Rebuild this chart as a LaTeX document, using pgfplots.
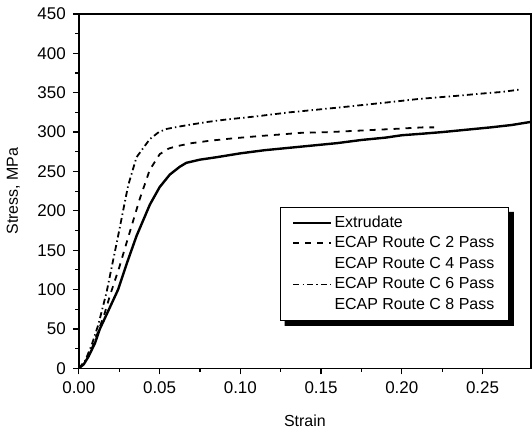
\documentclass[border=0pt]{standalone}
\usepackage{fontspec}
\setmainfont{Liberation Sans}
\usepackage{pgfplots}
\pgfplotsset{compat=1.18}
\begin{document}
\begin{tikzpicture}
\path[use as bounding box] (-39.5pt,-30.5pt) rectangle (227pt,184.5pt);
\begin{axis}[
  scale only axis, width=226.5pt, height=177.5pt,
  xmin=0, xmax=0.28, ymin=0, ymax=450,
  xtick={0,0.05,...,0.25}, ytick={0,50,...,450},
  minor x tick num=1, minor y tick num=1,
  tick pos=left, tick align=outside,
  major tick length=3pt, minor tick length=1.8pt,
  axis line style={line width=0.7pt}, every tick/.style={line width=0.6pt, black},
  /pgf/number format/assume math mode=true,
  xticklabel style={/pgf/number format/fixed, /pgf/number format/fixed zerofill, /pgf/number format/precision=2, font=\fontsize{8.5}{10}\selectfont},
  yticklabel style={font=\fontsize{8.5}{10}\selectfont},
  scaled x ticks=false,
  xlabel={Strain}, ylabel={Stress, MPa},
  label style={font=\fontsize{8}{10}\selectfont},
  xlabel style={yshift=-4pt},
  ylabel style={yshift=2pt},
  legend cell align=left,
  legend style={name=leg, at={(0.951,0.134)}, anchor=south east, draw=black, line width=0.6pt, fill=white,
    font=\fontsize{8}{9}\selectfont, inner xsep=6pt, inner ysep=2.5pt,
    nodes={inner ysep=0.9pt, inner xsep=1pt, text height=6.5pt, text depth=2pt}},
  legend image code/.code={\draw[#1] (0pt,0pt) -- (19pt,0pt);},
]
\addplot[black, line width=1.2pt] coordinates {
(0,0) (0.003,5) (0.006,15) (0.01,32) (0.013,50) (0.018,72) (0.0243,100) (0.03,135) (0.0357,168) (0.044,208) (0.05,230) (0.0563,246) (0.0625,256) (0.0666,261) (0.075,265) (0.085,268) (0.1,273) (0.115,277) (0.13,280) (0.145,283) (0.16,286) (0.175,290) (0.19,293) (0.2,296) (0.213,298) (0.225,300) (0.24,303) (0.255,306) (0.268,309) (0.28,313)};
\addlegendentry{Extrudate}
\addplot[black, line width=0.9pt, dash pattern=on 3pt off 3pt] coordinates {
(0,0) (0.004,8) (0.008,25) (0.012,47) (0.016,70) (0.0192,92) (0.025,128) (0.0305,166) (0.0377,215) (0.0439,252) (0.0501,272) (0.0555,279) (0.0604,282) (0.07,286) (0.081,289) (0.095,292) (0.112,295) (0.125,297) (0.137,299) (0.155,300) (0.175,302) (0.195,304) (0.213,306) (0.22,306)};
\addlegendentry{ECAP Route C 2 Pass}
\addlegendimage{empty legend}
\addlegendentry{ECAP Route C 4 Pass}
\addplot[black, line width=0.9pt, dash pattern=on 3pt off 1.6pt on 0.7pt off 1.6pt] coordinates {
(0,0) (0.004,10) (0.008,30) (0.012,55) (0.0171,96) (0.0243,168) (0.0305,232) (0.0357,268) (0.0439,291) (0.0495,300) (0.0543,304) (0.062,307) (0.0707,310) (0.08,313) (0.0914,316) (0.11,320) (0.13,325) (0.145,328) (0.16,331) (0.1924,338) (0.21,342) (0.2337,346) (0.25,349) (0.262,351) (0.273,354)};
\addlegendentry{ECAP Route C 6 Pass}
\addlegendimage{empty legend}
\addlegendentry{ECAP Route C 8 Pass}
\end{axis}
\fill[black] ([xshift=2.5pt]leg.south west) -- (leg.south east) -- ([yshift=-2.5pt]leg.north east)
  -- ([xshift=2.5pt,yshift=-2.5pt]leg.north east) -- ([xshift=2.5pt,yshift=-2.5pt]leg.south east)
  -- ([xshift=2.5pt,yshift=-2.5pt]leg.south west) -- cycle;
\end{tikzpicture}
\end{document}
